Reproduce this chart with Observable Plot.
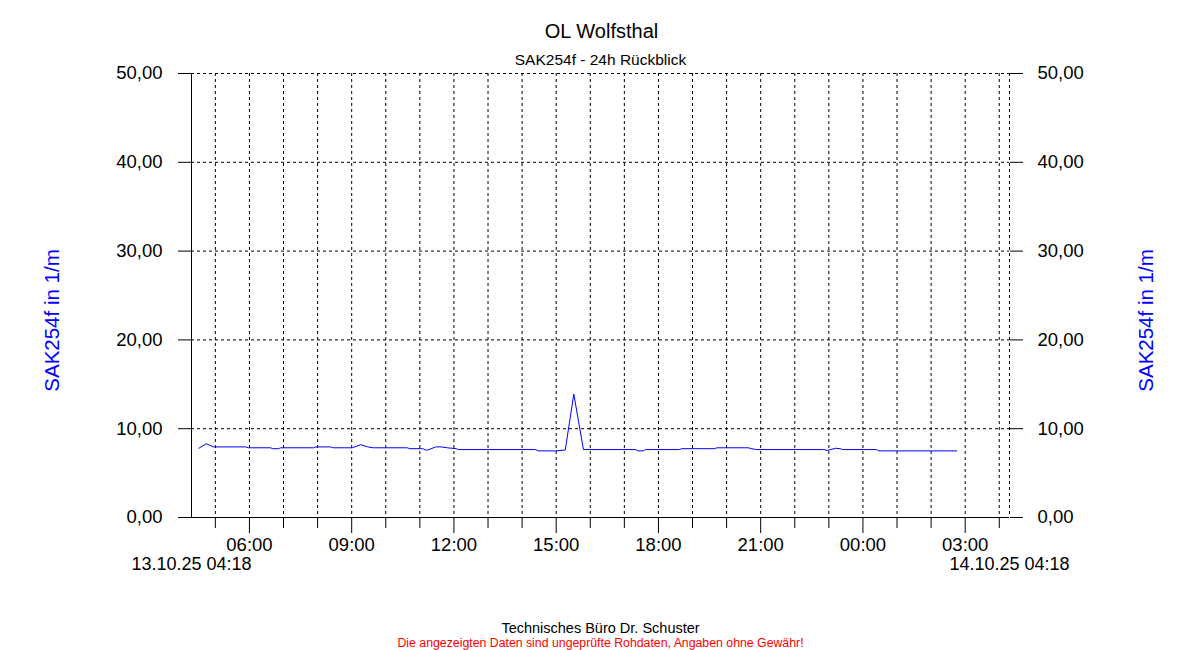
<!DOCTYPE html>
<html>
<head>
<meta charset="utf-8">
<script src="https://cdn.jsdelivr.net/npm/d3@7"></script>
<script src="https://cdn.jsdelivr.net/npm/@observablehq/plot@0.6"></script>
<style>
  html, body { margin: 0; padding: 0; background: #fff; }
  #chart svg { display: block; }
</style>
</head>
<body>
<div id="chart"></div>
<script>
// ---- data ----
const title = "OL Wolfsthal";
const subtitle = "SAK254f - 24h Rückblick";
const yLabel = "SAK254f in 1/m";
const footer1 = "Technisches Büro Dr. Schuster";
const footer2 = "Die angezeigten Daten sind ungeprüfte Rohdaten, Angaben ohne Gewähr!";
const startTime = "2025-10-13T04:18";
const endTime = "2025-10-14T04:18";
const startLabel = "13.10.25 04:18";
const endLabel = "14.10.25 04:18";
const yTicks = [0, 10, 20, 30, 40, 50];

const times = [
  "2025-10-13T04:31", "2025-10-13T04:44", "2025-10-13T04:57", "2025-10-13T05:53",
  "2025-10-13T05:58", "2025-10-13T06:37", "2025-10-13T06:41", "2025-10-13T06:51",
  "2025-10-13T06:55", "2025-10-13T07:53", "2025-10-13T07:57", "2025-10-13T08:23",
  "2025-10-13T08:27", "2025-10-13T09:01", "2025-10-13T09:16", "2025-10-13T09:28",
  "2025-10-13T09:38", "2025-10-13T10:38", "2025-10-13T10:42", "2025-10-13T11:05",
  "2025-10-13T11:10", "2025-10-13T11:14", "2025-10-13T11:28", "2025-10-13T11:38",
  "2025-10-13T11:48", "2025-10-13T12:04", "2025-10-13T12:08", "2025-10-13T14:24",
  "2025-10-13T14:28", "2025-10-13T14:59", "2025-10-13T15:16", "2025-10-13T15:31",
  "2025-10-13T15:48", "2025-10-13T17:20", "2025-10-13T17:24", "2025-10-13T17:33",
  "2025-10-13T17:37", "2025-10-13T18:37", "2025-10-13T18:41", "2025-10-13T19:39",
  "2025-10-13T19:43", "2025-10-13T20:39", "2025-10-13T20:43", "2025-10-13T20:53",
  "2025-10-13T22:51", "2025-10-13T22:57", "2025-10-13T23:12", "2025-10-13T23:20",
  "2025-10-13T23:24", "2025-10-14T00:24", "2025-10-14T00:28", "2025-10-14T02:45"
];
const values = [
  7.8, 8.3, 7.95, 7.95,
  7.85, 7.85, 7.75, 7.75,
  7.85, 7.85, 7.95, 7.95,
  7.85, 7.85, 8.2, 7.95,
  7.85, 7.85, 7.75, 7.75,
  7.6, 7.6, 7.95, 7.95,
  7.85, 7.75, 7.65, 7.65,
  7.5, 7.5, 7.6, 13.9,
  7.65, 7.65, 7.5, 7.5,
  7.65, 7.65, 7.75, 7.75,
  7.85, 7.85, 7.75, 7.65,
  7.65, 7.55, 7.8, 7.75,
  7.65, 7.65, 7.5, 7.5
];

// ---- build ----
const parse = d3.timeParse("%Y-%m-%dT%H:%M");
const data = times.map((t, i) => ({time: parse(t), value: values[i]}));
const start = parse(startTime);
const end = parse(endTime);
const hours = d3.timeHour.range(d3.timeHour.ceil(start), end);
const majorTicks = hours.filter(d => d.getHours() % 3 === 0);
const minorTicks = hours.filter(d => d.getHours() % 3 !== 0);
const fmtY = d => d.toFixed(2).replace(".", ",");
const fmtX = d3.timeFormat("%H:%M");
const dash = "3,3";

const chart = Plot.plot({
  width: 1200,
  height: 650,
  marginLeft: 191,
  marginRight: 191,
  marginTop: 73,
  marginBottom: 133,
  style: {fontFamily: "'Liberation Sans', Arial, sans-serif", background: "#fff", color: "#000"},
  x: {type: "time", domain: [start, end]},
  y: {domain: [0, 50]},
  marks: [
    Plot.gridY(yTicks.filter(d => d > 0), {stroke: "#000", strokeOpacity: 1, strokeDasharray: dash}),
    Plot.gridX(hours, {stroke: "#000", strokeOpacity: 1, strokeDasharray: dash}),
    Plot.ruleX([end], {stroke: "#000", strokeDasharray: dash}),
    Plot.ruleX([start], {stroke: "#000"}),
    Plot.ruleY([0], {stroke: "#000"}),
    Plot.lineY(data, {x: "time", y: "value", stroke: "#0000ff", strokeWidth: 1}),
    Plot.axisY(yTicks, {anchor: "left", tickSize: 13, tickPadding: 16, tickFormat: fmtY, fontSize: 18.5, label: null}),
    Plot.axisY(yTicks, {anchor: "right", tickSize: 13, tickPadding: 15, tickFormat: fmtY, fontSize: 18.5, label: null}),
    Plot.axisX(minorTicks, {tickSize: 11, tickFormat: () => "", label: null}),
    Plot.axisX(majorTicks, {tickSize: 16, tickPadding: 4, tickFormat: fmtX, fontSize: 18.5, label: null}),
    Plot.text([startLabel], {text: d => d, x: () => start, frameAnchor: "bottom", dy: 47, fontSize: 18, textAnchor: "middle", lineAnchor: "middle"}),
    Plot.text([endLabel], {text: d => d, x: () => end, frameAnchor: "bottom", dy: 47, fontSize: 18, textAnchor: "middle", lineAnchor: "middle"}),
    Plot.text([title], {text: d => d, frameAnchor: "top", dx: 1, dy: -42.4, fontSize: 20, lineAnchor: "middle"}),
    Plot.text([subtitle], {text: d => d, frameAnchor: "top", dy: -13, fontSize: 15.5, lineAnchor: "middle"}),
    Plot.text([yLabel], {text: d => d, frameAnchor: "left", dx: -139, dy: 25, rotate: -90, fill: "#0000ff", fontSize: 20.5, textAnchor: "middle", lineAnchor: "middle"}),
    Plot.text([yLabel], {text: d => d, frameAnchor: "right", dx: 137, dy: 25, rotate: -90, fill: "#0000ff", fontSize: 20.5, textAnchor: "middle", lineAnchor: "middle"}),
    Plot.text([footer1], {text: d => d, frameAnchor: "bottom", dy: 110.4, fontSize: 14.5, lineAnchor: "middle"}),
    Plot.text([footer2], {text: d => d, frameAnchor: "bottom", dy: 125.5, fill: "#ff0000", fontSize: 12.3, lineAnchor: "middle"})
  ]
});
document.getElementById("chart").appendChild(chart);
</script>
</body>
</html>
